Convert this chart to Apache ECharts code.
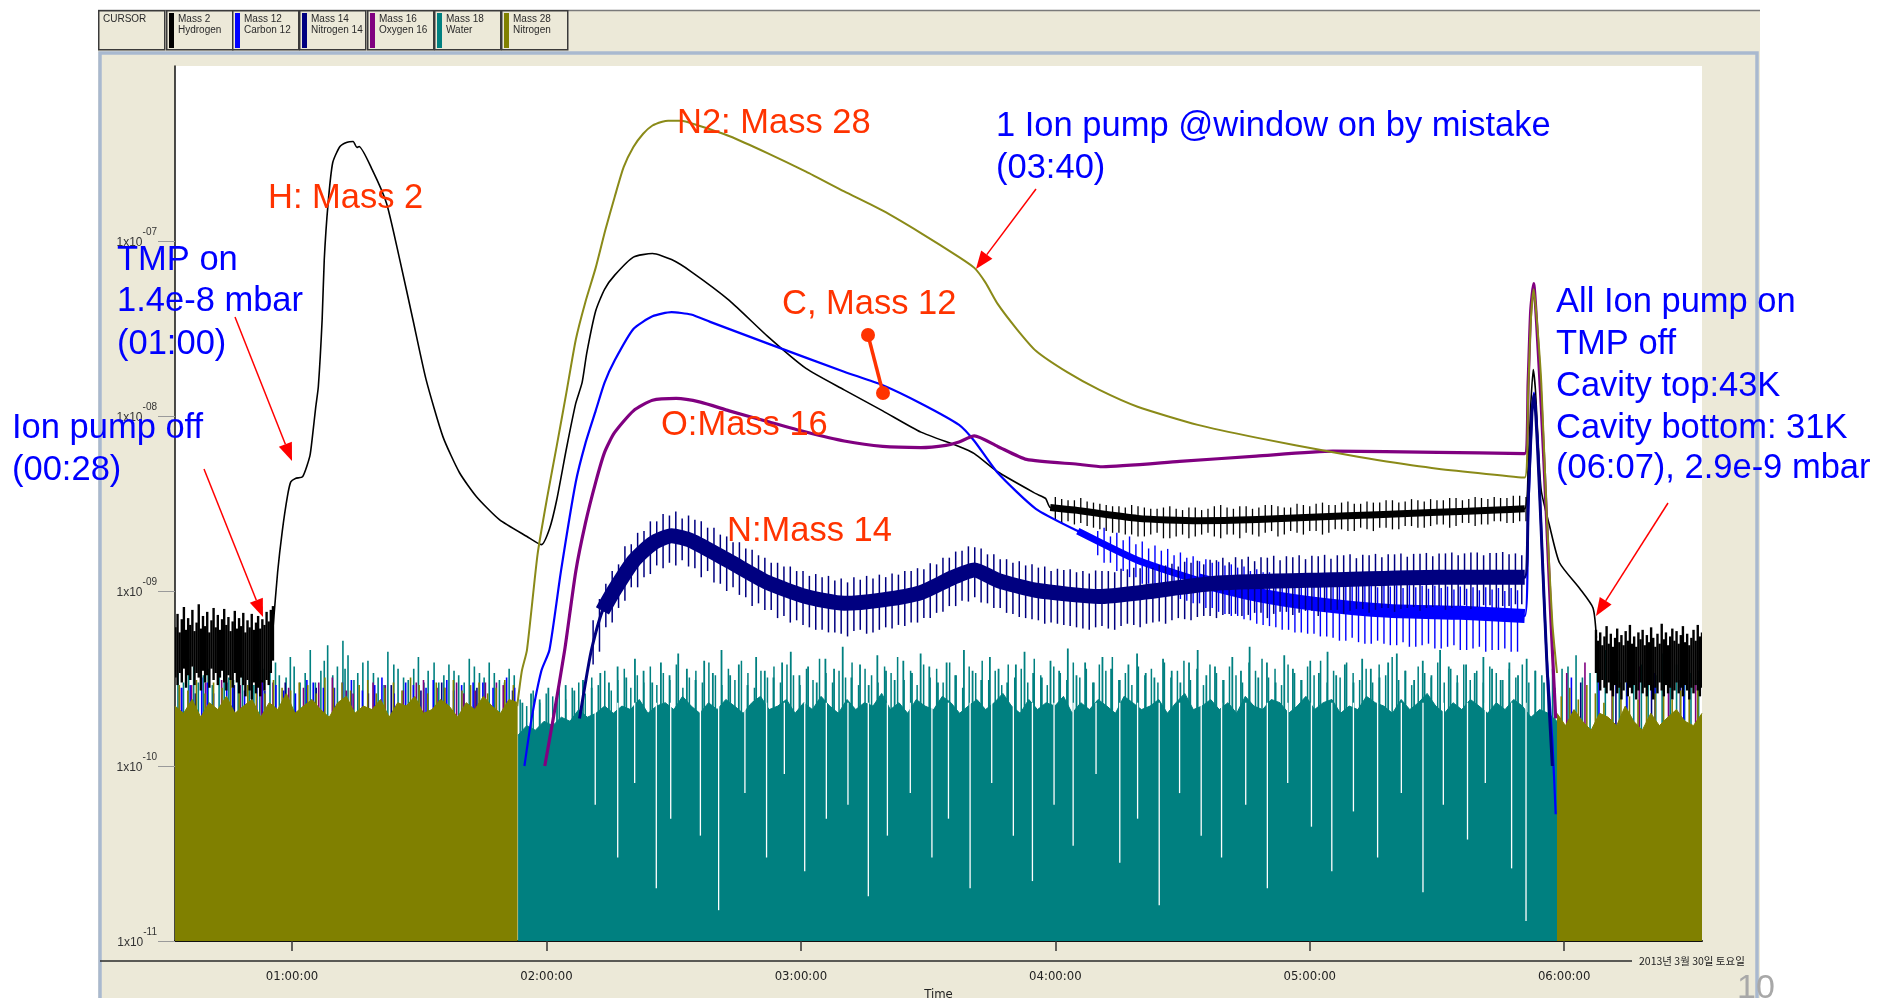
<!DOCTYPE html>
<html>
<head>
<meta charset="utf-8">
<title>RGA partial pressures</title>
<script src="https://cdn.jsdelivr.net/npm/echarts@6.0.0/dist/echarts.min.js"></script>
<style>
html, body { margin: 0; padding: 0; background: #ffffff; }
#chart { width: 1878px; height: 998px; }
</style>
</head>
<body>
<div id="chart"></div>
<script>
// ---------------- axes ----------------
const timeMin = 32.4, timeMax = 392.5;            // minutes
const pressureMin = 1e-11, pressureMax = 1e-6;    // mbar
const timeTickMinutes = [60, 120, 180, 240, 300, 360];
const timeTickLabels = ['01:00:00', '02:00:00', '03:00:00', '04:00:00', '05:00:00', '06:00:00'];
const pressureDecades = [1e-11, 1e-10, 1e-9, 1e-8, 1e-7];

// ---------------- legend ----------------
const legendLabels = ['CURSOR', 'Mass 2\nHydrogen', 'Mass 12\nCarbon 12', 'Mass 14\nNitrogen 14', 'Mass 16\nOxygen 16', 'Mass 18\nWater', 'Mass 28\nNitrogen'];
const channelColors = ['#000000', '#0000FF', '#000080', '#800080', '#008080', '#808000'];

// ---------------- main traces [minute, mbar] ----------------
const hydrogen = [
 [55.5,6.1e-10],[56.6,1.28e-9],[57.7,2.2e-9],[58.9,3.46e-9],[59.7,4.2e-9],[60.8,4.4e-9],[62.5,4.5e-9],[64.2,5.9e-9],[64.8,7.6e-9],[65.6,1.13e-8],[66.2,1.47e-8],[67.1,3.56e-8],[67.6,7.83e-8],[68.5,1.64e-7],[69.6,2.81e-7],[71.3,3.47e-7],[73.0,3.67e-7],[74.4,3.70e-7],[75.3,3.42e-7],[75.8,3.47e-7],[78.9,2.56e-7],[82.3,1.64e-7],[85.4,7.83e-8],[88.5,3.56e-8],[91.6,1.62e-8],[95.6,7.6e-9],[99.5,4.74e-9],[103.5,3.46e-9],[108.9,2.56e-9],[115.4,2.05e-9],[118.8,1.84e-9],[120.7,2.26e-9],[122.4,3.3e-9],[124.7,6.5e-9],[126.9,1.18e-8],[128.4,1.55e-8],[129.5,2.29e-8],[131.6,3.98e-8],[133.7,5.3e-8],[136.1,6.38e-8],[140.5,8.09e-8],[145.0,8.48e-8],[149.5,7.83e-8],[154.1,6.69e-8],[163.1,4.58e-8],[172.1,2.86e-8],[181.2,1.87e-8],[190.2,1.41e-8],[199.3,1.07e-8],[208.3,8.09e-9],[217.3,6.7e-9],[220.9,6.1e-9],[226.4,4.8e-9],[235.4,3.6e-9],[237.7,3.38e-9],[238.8,3.0e-9],[244.5,2.9e-9],[259.4,2.6e-9],[273.6,2.52e-9],[287.7,2.56e-9],[301.8,2.65e-9],[315.9,2.73e-9],[330.1,2.82e-9],[344.2,2.9e-9],[350.7,2.95e-9],[351.5,5.13e-9],[352.1,1.13e-8],[352.7,1.84e-8],[353.2,1.43e-8],[353.8,7.6e-9],[354.6,3.74e-9],[356.6,2.33e-9],[358.9,1.45e-9],[363.7,1.03e-9],[366.8,8.0e-10],[367.6,5.4e-10]
];
const carbon12 = [
 [114.8,1.0e-10],[116.5,1.87e-10],[118.8,3.5e-10],[120.7,4.6e-10],[123.4,1.29e-9],[126.9,4.18e-9],[129.2,7.0e-9],[131.6,1.07e-8],[133.7,1.55e-8],[136.1,2.08e-8],[140.5,3.14e-8],[145.0,3.71e-8],[149.5,3.92e-8],[154.1,3.8e-8],[158.6,3.45e-8],[172.1,2.6e-8],[190.2,1.79e-8],[199.3,1.5e-8],[208.3,1.18e-8],[217.3,8.9e-9],[220.9,7.2e-9],[226.4,4.74e-9],[235.4,2.95e-9],[245.3,2.2e-9],[259.4,1.5e-9],[273.6,1.15e-9],[287.7,9.5e-10],[301.8,8.4e-10],[318.8,7.7e-10],[335.7,7.5e-10],[350.7,7.2e-10],[351.5,2.7e-9],[352.4,1.05e-8],[352.9,1.36e-8],[353.8,6.5e-9],[354.9,1.45e-9],[355.8,4.5e-10],[357.2,1.4e-10],[358.0,5.3e-11]
];
const nitrogen14 = [
 [127.8,1.87e-10],[129.2,3.0e-10],[130.6,4.6e-10],[133.2,7.7e-10],[136.1,1.02e-9],[140.5,1.48e-9],[145.0,1.87e-9],[149.5,2.07e-9],[154.1,1.94e-9],[163.1,1.48e-9],[172.1,1.12e-9],[181.2,9.3e-10],[190.2,8.5e-10],[199.3,8.9e-10],[208.3,9.8e-10],[215.7,1.19e-9],[220.9,1.32e-9],[226.4,1.15e-9],[235.4,1.01e-9],[250.4,9.3e-10],[260.3,9.8e-10],[278.4,1.11e-9],[305.5,1.16e-9],[330.1,1.2e-9],[350.7,1.2e-9],[351.5,3.2e-9],[352.4,1.05e-8],[352.9,1.32e-8],[353.8,6.0e-9],[354.9,1.45e-9],[356.0,3.5e-10],[357.2,1.0e-10]
];
const oxygen16 = [
 [119.6,1.0e-10],[121.6,1.87e-10],[124.3,4.6e-10],[126.9,1.29e-9],[129.2,2.45e-9],[131.6,4.18e-9],[133.7,6.2e-9],[136.0,8.0e-9],[140.5,1.07e-8],[145.0,1.23e-8],[150.6,1.26e-8],[156.3,1.2e-8],[163.1,1.07e-8],[172.1,9.3e-9],[181.2,8.1e-9],[190.2,7.2e-9],[199.3,6.7e-9],[208.3,6.6e-9],[214.2,6.8e-9],[217.3,7.1e-9],[220.9,7.7e-9],[226.4,6.7e-9],[233.2,5.65e-9],[245.3,5.3e-9],[251.2,5.13e-9],[269.3,5.5e-9],[287.4,5.9e-9],[305.5,6.3e-9],[330.1,6.2e-9],[350.7,6.1e-9],[351.5,1.55e-8],[352.1,3.98e-8],[352.8,5.7e-8],[353.5,3.4e-8],[354.6,1.13e-8],[355.8,2.73e-9],[356.9,6.6e-10],[358.0,1.87e-10]
];
const nitrogen28 = [
 [113.1,2.2e-10],[114.2,3.5e-10],[115.4,4.6e-10],[117.9,1.62e-9],[120.2,3.46e-9],[122.4,6.7e-9],[124.7,1.36e-8],[126.9,2.72e-8],[129.2,4.5e-8],[131.6,7.02e-8],[133.9,1.16e-7],[136.1,1.79e-7],[138.2,2.64e-7],[140.5,3.44e-7],[142.8,4.1e-7],[145.0,4.57e-7],[147.3,4.8e-7],[148.7,4.87e-7],[151.8,4.87e-7],[154.9,4.65e-7],[163.2,3.97e-7],[172.1,3.18e-7],[181.2,2.49e-7],[190.2,1.92e-7],[199.3,1.49e-7],[208.3,1.11e-7],[217.3,8.09e-8],[220.9,7.02e-8],[223.5,5.8e-8],[226.4,4.37e-8],[230.9,3.14e-8],[235.4,2.36e-8],[242.8,1.78e-8],[250.4,1.41e-8],[259.4,1.13e-8],[273.6,8.9e-9],[287.7,7.5e-9],[305.5,6.2e-9],[315.9,5.6e-9],[330.1,5.0e-9],[350.7,4.45e-9],[351.5,1.32e-8],[352.1,3.4e-8],[352.8,5.3e-8],[353.5,3.68e-8],[354.6,1.55e-8],[355.9,2.66e-9],[357.2,6.6e-10],[358.3,3.4e-10]
];

// ---------------- noise floors (values in units of 1e-10 mbar) ----------------
const E10 = 1e-10, E9 = 1e-9;
const waterFloorStart = 113.3, waterFloorEnd = 358.3;
const waterFloor_e10 = [1.5,1.7,1.6,1.8,1.7,1.9,1.8,2.1,1.9,2.0,2.2,2.0,2.2,2.1,2.4,2.0,2.2,2.3,2.1,2.5,2.2,2.0,2.3,2.1,2.4,2.2,2.0,2.3,2.5,2.1,2.2,2.4,2.0,2.3,2.1,2.5,2.2,2.0,2.4,2.1,2.3,2.2,2.6,2.1,2.3,2.0,2.4,2.2,2.1,2.5,2.3,2.0,2.2,2.4,2.1,2.3,2.6,2.2,2.0,2.4,2.1,2.3,2.2,2.5,2.0,2.3,2.1,2.4,2.2,2.0,2.5,2.3,2.1,2.2,2.4,2.0,2.3,2.6,2.1,2.2,2.4,2.1,2.3,2.0,2.5,2.2,2.1,2.4,2.3,2.0,2.2,2.5,2.1,2.3,2.4,2.0,2.2,2.1,2.5,2.3,2.2,2.0,2.4,2.1,2.3,2.6,2.2,2.0,2.3,2.1,2.4,2.2,2.0,2.3,2.1,2.4,2.2,1.9,2.1,2.0,1.8];
const waterSpikes_e10 = [2.3,2.6,2.4,2.8,2.5,2.9,2.7,3.1,2.8,3.4,3.0,3.7,3.2,4.1,3.5,3.0,3.9,3.3,4.4,3.6,3.1,4.0,3.4,4.6,3.3,3.8,2.9,4.2,3.5,3.2,3.9,4.5,3.3,3.7,3.0,4.1,3.6,4.8,3.2,3.8,2.9,4.3,3.5,3.1,4.0,3.4,4.4,3.7,3.0,3.9,3.3,4.6,3.5,3.1,4.2,3.6,3.0,3.8,4.5,3.4,3.2,4.0,3.5,4.7,3.3,3.9,3.0,4.2,3.6,3.1,3.8,4.4,3.4,3.2,4.1,3.5,3.0,3.9,4.6,3.3,3.7,3.1,4.2,3.5,4.8,3.2,3.9,3.0,4.3,3.6,3.1,4.0,3.4,4.5,3.3,3.8,3.0,4.1,3.6,3.2,3.9,4.4,3.5,3.1,4.0,3.3,4.6,3.7,3.0,3.8,3.4,4.2,3.6,3.1,3.9,3.3,4.1,3.5,3.0,3.6];
const waterSpikes2Start = 113.8, waterSpikes2End = 357.8;
const waterSpikes2_e10 = [2.4,2.2,2.7,2.3,2.6,2.5,2.9,2.4,2.8,3.0,2.6,3.2,2.9,3.5,2.7,3.1,3.6,2.8,3.3,3.0,3.7,2.9,3.4,3.1,3.8,2.8,3.2,3.5,3.0,3.9,3.3,2.9,3.6,3.1,4.0,3.4,2.8,3.5,3.2,3.7,3.0,3.8,3.3,2.9,3.6,3.1,4.1,3.4,3.0,3.5,3.2,3.9,2.9,3.6,3.3,3.0,3.7,3.4,4.2,3.1,3.5,2.9,3.8,3.2,3.6,3.0,3.9,3.3,2.8,3.7,3.4,4.0,3.1,3.5,2.9,3.8,3.2,3.6,3.0,4.1,3.3,2.9,3.7,3.4,3.1,3.9,3.2,3.6,3.0,3.8,3.5,4.2,3.1,3.4,2.9,3.7,3.3,3.6,3.0,3.9,3.2,3.5,4.0,3.1,3.6,2.9,3.8,3.4,3.1,3.7,3.3,3.0,3.9,3.5,4.1,3.2,3.6,2.9,3.8,3.4,3.1,3.7,3.3,4.0,3.0,3.5,3.2,3.9,3.4,3.1,3.6,3.0,3.8,3.3,4.2,3.1,3.5,2.9,3.7,3.4,3.2,3.9,3.0,3.6,3.3,3.8,3.1,3.5,3.0,3.7,3.4,3.1,3.6,3.2,3.8,3.0,3.5,3.3,3.1,2.8];
// white columns inside the water floor: [minute, lowest value reached]
const waterGaps = [[131.5,6e-11],[136.8,3e-11],[140.8,8e-11],[145.9,2e-11],[149.3,5e-11],[156.3,4e-11],[160.6,1.5e-11],[166.8,7e-11],[171.9,3e-11],[176.1,9e-11],[180.9,2.5e-11],[186.0,5e-11],[191.1,6e-11],[195.9,1.8e-11],[200.4,4e-11],[205.8,7e-11],[210.9,3e-11],[214.8,5e-11],[219.9,2e-11],[225.0,8e-11],[230.1,4e-11],[234.6,2.2e-11],[239.7,6e-11],[244.2,3.5e-11],[249.6,9e-11],[255.2,2.8e-11],[259.4,5e-11],[264.5,1.6e-11],[269.3,7e-11],[274.4,4e-11],[279.2,3e-11],[284.9,6e-11],[290.0,2e-11],[294.8,8e-11],[300.4,4.5e-11],[305.2,2.5e-11],[310.3,5.5e-11],[316.0,3e-11],[321.6,7e-11],[326.7,1.9e-11],[331.5,6e-11],[337.2,3.8e-11],[341.4,8e-11],[347.6,2.6e-11],[351.0,1.3e-11]];

const n2FloorLeftStart = 32.4, n2FloorLeftEnd = 113.2;
const n2FloorLeft_e10 = [2.2,2.0,2.4,1.9,2.3,2.1,2.5,2.0,2.2,2.4,1.9,2.3,2.1,2.6,2.0,2.2,2.4,2.1,1.9,2.3,2.5,2.0,2.2,2.1,2.4,1.9,2.3,2.2,2.5,2.0,2.1,2.4,2.2,1.9,2.3,2.1,2.5,2.2,2.0,2.4,2.3];
const n2SpikesLeft_e10 = [2.9,2.7,3.1,2.6,3.0,2.8,3.2,2.7,2.9,3.0,2.6,3.1,2.8,2.7,3.0,2.9,2.6,3.2,2.8,3.0,2.7,2.9,3.1,2.6,2.8,3.0,2.7,3.2,2.9,2.6,3.0,2.8,3.1,2.7,2.9,3.0,2.6,2.8,3.1,2.9];
const n2FloorRightStart = 358.3, n2FloorRightEnd = 392.5;
const n2FloorRight_e10 = [2.0,1.7,2.1,1.8,1.6,2.0,1.9,1.7,2.2,1.8,1.6,2.0,1.7,1.9,2.1,1.8,1.7,2.0];
const n2SpikesRight_e10 = [2.5,2.8,2.4,2.9,2.6,2.3,2.7,3.0,2.5,2.4,2.8,2.6,2.9,2.4,2.7,2.5,2.8];

// spikes of the other channels rising out of the floor: [minute, value e-10]
const waterFloorSpikes_e10 = [[33.1,3.4],[34.4,3.0],[35.6,4.1],[36.8,3.7],[37.9,3.0],[39.1,3.3],[40.2,3.6],[41.2,2.9],[42.8,4.4],[44.0,3.8],[45.1,3.2],[46.2,3.1],[47.3,3.9],[48.3,3.5],[49.9,3.1],[51.0,2.9],[52.4,4.0],[53.1,3.6],[54.8,3.5],[56.1,3.9],[57.0,3.3],[58.6,3.2],[59.6,4.2],[60.5,3.7],[61.9,3.0],[63.1,3.4],[64.3,4.6],[65.5,3.0],[66.8,3.5],[67.6,4.0],[68.4,4.9],[69.6,3.3],[70.7,3.7],[72.0,5.2],[72.5,3.6],[73.2,4.3],[74.6,3.1],[75.5,3.4],[76.7,3.9],[77.9,4.0],[79.2,3.4],[80.3,3.2],[81.7,2.9],[82.6,4.5],[84.0,3.8],[85.0,3.6],[86.3,3.2],[87.4,3.1],[88.7,3.6],[89.8,4.2],[91.1,3.0],[92.1,3.5],[93.5,3.9],[94.6,3.0],[95.8,3.3],[97.0,3.8],[98.2,3.5],[99.3,3.3],[100.6,3.0],[101.8,4.1],[103.0,3.7],[104.2,3.4],[105.3,3.2],[106.5,3.9],[107.7,3.4],[108.9,3.1],[110.1,3.0],[111.2,3.6],[112.4,3.3],[359.5,3.6],[360.9,3.7],[362.8,4.3],[364.3,3.2],[366.1,3.4],[367.8,3.9],[369.7,4.6],[371.5,3.4],[373.0,3.5],[374.7,3.0],[376.4,4.1],[378.2,3.8],[379.8,3.3],[381.6,3.3],[383.1,4.4],[385.0,3.6],[386.5,3.8],[388.4,3.1],[389.9,3.4],[391.7,3.5]];
const carbonFloorSpikes_e10 = [[34.0,2.8],[36.0,2.9],[38.7,3.2],[40.0,3.0],[41.5,2.6],[44.6,3.0],[46.0,2.8],[48.8,2.7],[51.7,3.3],[53.0,3.1],[56.2,2.9],[58.0,2.7],[60.8,2.6],[63.5,3.1],[65.0,3.0],[67.4,2.8],[70.0,2.8],[71.9,3.0],[74.0,3.1],[76.6,2.7],[79.5,2.9],[81.2,3.2],[84.1,2.6],[86.8,3.0],[88.6,2.9],[91.6,2.8],[93.3,3.1],[96.5,3.1],[98.1,2.7],[100.0,2.9],[102.7,3.0],[105.0,3.0],[107.4,2.8],[110.6,3.2],[112.5,2.8],[361.7,3.2],[368.2,3.6],[374.8,3.0],[381.4,3.4],[388.2,3.1]];
const oxygenFloorSpikes_e10 = [[33.5,2.8],[36.3,2.9],[39.6,3.0],[43.4,3.1],[47.8,2.9],[50.5,2.7],[52.8,3.1],[55.5,3.0],[59.2,2.8],[62.7,2.8],[66.3,3.0],[69.5,3.2],[72.8,2.7],[74.4,2.6],[79.1,3.0],[82.0,2.9],[86.2,2.7],[89.3,3.0],[91.0,3.1],[94.2,2.8],[96.0,2.8],[98.8,3.0],[100.5,2.6],[103.2,2.7],[105.6,3.0],[108.2,3.0],[109.8,2.9],[360.6,3.4],[364.9,3.9],[371.3,3.2],[377.7,3.7],[384.6,3.5],[391.0,3.1]];
const nitrogen14FloorSpikes_e10 = [[37.2,2.6],[46.4,2.9],[53.6,2.7],[58.4,3.0],[65.7,2.8],[78.0,2.6],[83.4,2.9],[90.4,2.7],[95.3,3.0],[103.6,2.8],[112.0,2.7],[363.9,3.0],[372.2,3.3],[380.6,2.9],[387.4,3.1]];

// noisy bands: [minute, low, high]
const hydrogenBandLeft_e10 = [[32.5,3.2,6.2],[33.0,2.9,7.4],[33.5,3.4,5.8],[34.0,3.0,6.9],[34.5,3.6,8.1],[35.0,2.8,6.0],[35.5,3.3,7.0],[36.0,3.1,6.4],[36.5,3.7,7.8],[37.0,2.9,5.9],[37.5,3.4,6.6],[38.0,3.2,8.4],[38.5,2.7,6.1],[39.0,3.5,7.2],[39.5,3.0,6.3],[40.0,3.3,7.6],[40.5,2.8,5.8],[41.0,3.6,6.8],[41.5,3.1,8.0],[42.0,3.4,6.2],[42.5,2.9,7.3],[43.0,3.2,6.0],[43.5,3.5,6.9],[44.0,3.0,7.9],[44.5,2.7,6.4],[45.0,3.3,7.1],[45.5,3.1,5.9],[46.0,2.8,6.7],[46.5,3.4,7.7],[47.0,3.0,6.1],[47.5,2.6,7.0],[48.0,3.2,6.3],[48.5,2.9,7.5],[49.0,2.5,5.8],[49.5,3.1,6.8],[50.0,2.7,6.2],[50.5,2.4,7.4],[51.0,3.0,6.0],[51.5,2.6,6.6],[52.0,2.8,7.2],[52.5,2.5,6.1],[53.0,3.0,6.9],[53.5,2.7,6.4],[54.0,3.1,7.6],[54.5,2.9,6.7],[55.0,3.4,7.8],[55.5,4.0,8.2]];
const hydrogenBandRight_e10 = [[367.5,3.4,6.0],[368.0,3.0,5.2],[368.5,2.7,5.8],[369.0,3.1,4.9],[369.5,2.8,5.5],[370.0,2.6,6.3],[370.5,3.0,5.0],[371.0,2.7,5.7],[371.5,2.5,4.8],[372.0,2.9,5.4],[372.5,2.6,6.1],[373.0,2.8,5.1],[373.5,2.4,5.6],[374.0,2.7,4.9],[374.5,3.0,5.9],[375.0,2.5,5.2],[375.5,2.8,6.4],[376.0,2.6,5.0],[376.5,2.9,5.5],[377.0,2.4,4.8],[377.5,2.7,5.8],[378.0,3.0,5.3],[378.5,2.6,6.0],[379.0,2.8,4.9],[379.5,2.5,5.6],[380.0,2.9,5.1],[380.5,2.7,6.2],[381.0,2.4,5.4],[381.5,2.8,4.8],[382.0,2.6,5.7],[382.5,3.0,5.0],[383.0,2.7,6.5],[383.5,2.5,5.3],[384.0,2.9,5.8],[384.5,2.6,4.9],[385.0,2.8,5.5],[385.5,2.4,6.1],[386.0,2.7,5.2],[386.5,3.0,5.9],[387.0,2.6,5.0],[387.5,2.8,5.6],[388.0,2.5,6.3],[388.5,2.9,5.1],[389.0,2.7,5.7],[389.5,2.4,4.9],[390.0,2.8,5.4],[390.5,2.6,6.0],[391.0,2.9,5.2],[391.5,2.7,6.4],[392.0,2.5,5.5],[392.5,2.8,5.8]];
const hydrogenBandMid_e9 = [[240,2.55,3.45],[241.5,2.45,3.35],[243,2.5,3.3],[244.5,2.4,3.3],[246,2.45,3.4],[247.5,2.35,3.25],[249,2.3,3.2],[250.5,2.25,3.15],[252,2.2,3.1],[253.5,2.15,3.05],[255,2.15,3.05],[256.5,2.1,3.0],[258,2.1,3.1],[259.5,2.05,3.05],[261,2.05,3.0],[262.5,2.1,2.95],[264,2.15,2.95],[265.5,2.0,3.0],[267,2.0,3.05],[268.5,2.05,2.95],[270,2.1,2.9],[271.5,2.0,3.0],[273,2.05,3.0],[274.5,2.1,2.9],[276,2.15,2.95],[277.5,2.05,3.05],[279,2.0,3.1],[280.5,2.1,3.0],[282,2.1,2.95],[283.5,2.0,3.05],[285,2.15,3.05],[286.5,2.1,2.95],[288,2.05,3.0],[289.5,2.15,3.1],[291,2.2,3.1],[292.5,2.05,3.05],[294,2.1,3.0],[295.5,2.2,3.0],[297,2.15,3.15],[298.5,2.1,3.1],[300,2.2,3.05],[301.5,2.2,3.15],[303,2.1,3.2],[304.5,2.15,3.1],[306,2.25,3.1],[307.5,2.25,3.2],[309,2.2,3.25],[310.5,2.2,3.15],[312,2.3,3.15],[313.5,2.25,3.25],[315,2.2,3.2],[316.5,2.3,3.2],[318,2.3,3.3],[319.5,2.25,3.3],[321,2.25,3.2],[322.5,2.35,3.25],[324,2.35,3.35],[325.5,2.3,3.3],[327,2.3,3.25],[328.5,2.35,3.35],[330,2.4,3.3],[331.5,2.4,3.3],[333,2.3,3.4],[334.5,2.35,3.4],[336,2.45,3.3],[337.5,2.45,3.35],[339,2.35,3.45],[340.5,2.4,3.4],[342,2.4,3.35],[343.5,2.5,3.45],[345,2.5,3.4],[346.5,2.45,3.4],[348,2.45,3.5],[349.5,2.5,3.5],[351,2.5,3.45]];
const nitrogen14Band_e9 = [[131,0.38,0.68],[132.5,0.45,0.9],[134,0.62,1.1],[135.5,0.66,1.3],[137,0.8,1.42],[138.5,0.88,1.8],[140,1.05,1.85],[141.5,1.05,2.15],[143,1.2,2.2],[144.5,1.25,2.5],[146,1.4,2.5],[147.5,1.35,2.75],[149,1.45,2.7],[150.5,1.4,2.85],[152,1.5,2.6],[153.5,1.38,2.7],[155,1.35,2.55],[156.5,1.2,2.5],[158,1.3,2.3],[159.5,1.12,2.3],[161,1.1,2.1],[162.5,1.0,2.05],[164,1.05,1.9],[165.5,0.95,1.9],[167,0.92,1.75],[168.5,0.82,1.72],[170,0.85,1.6],[171.5,0.78,1.55],[173,0.78,1.45],[174.5,0.7,1.45],[176,0.72,1.38],[177.5,0.66,1.38],[179,0.68,1.3],[180.5,0.64,1.3],[182,0.62,1.22],[183.5,0.6,1.25],[185,0.6,1.2],[186.5,0.58,1.22],[188,0.58,1.15],[189.5,0.57,1.18],[191,0.55,1.12],[192.5,0.59,1.2],[194,0.6,1.16],[195.5,0.57,1.22],[197,0.58,1.18],[198.5,0.6,1.24],[200,0.62,1.2],[201.5,0.61,1.26],[203,0.64,1.24],[204.5,0.63,1.3],[206,0.66,1.3],[207.5,0.66,1.35],[209,0.7,1.33],[210.5,0.7,1.44],[212,0.75,1.42],[213.5,0.76,1.55],[215,0.82,1.55],[216.5,0.82,1.68],[218,0.88,1.7],[219.5,0.87,1.8],[221,0.92,1.78],[222.5,0.86,1.75],[224,0.85,1.62],[225.5,0.8,1.62],[227,0.8,1.52],[228.5,0.75,1.52],[230,0.74,1.45],[231.5,0.71,1.48],[233,0.7,1.4],[234.5,0.69,1.42],[236,0.68,1.36],[237.5,0.65,1.38],[239,0.66,1.3],[240.5,0.65,1.34],[242,0.64,1.32],[243.5,0.63,1.33],[245,0.62,1.28],[246.5,0.61,1.3],[248,0.6,1.26],[249.5,0.62,1.31],[251,0.63,1.3],[252.5,0.61,1.3],[254,0.6,1.28],[255.5,0.63,1.34],[257,0.65,1.33],[258.5,0.64,1.36],[260,0.62,1.35],[261.5,0.65,1.38],[263,0.66,1.36],[264.5,0.67,1.41],[266,0.65,1.4],[267.5,0.68,1.43],[269,0.7,1.38],[270.5,0.69,1.47],[272,0.68,1.45],[273.5,0.71,1.49],[275,0.72,1.42],[276.5,0.72,1.51],[278,0.7,1.5],[279.5,0.73,1.55],[281,0.74,1.46],[282.5,0.74,1.56],[284,0.72,1.52],[285.5,0.73,1.57],[287,0.75,1.48],[288.5,0.75,1.56],[290,0.7,1.55],[291.5,0.74,1.59],[293,0.76,1.5],[294.5,0.76,1.58],[296,0.73,1.56],[297.5,0.75,1.6],[299,0.77,1.52],[300.5,0.77,1.59],[302,0.72,1.58],[303.5,0.76,1.61],[305,0.78,1.53],[306.5,0.78,1.6],[308,0.74,1.6],[309.5,0.77,1.62],[311,0.79,1.54],[312.5,0.79,1.61],[314,0.75,1.6],[315.5,0.78,1.63],[317,0.8,1.56],[318.5,0.8,1.62],[320,0.76,1.62],[321.5,0.79,1.64],[323,0.8,1.57],[324.5,0.81,1.63],[326,0.77,1.63],[327.5,0.8,1.65],[329,0.81,1.58],[330.5,0.82,1.64],[332,0.78,1.64],[333.5,0.8,1.66],[335,0.82,1.6],[336.5,0.83,1.64],[338,0.79,1.66],[339.5,0.81,1.66],[341,0.83,1.6],[342.5,0.83,1.65],[344,0.8,1.65],[345.5,0.82,1.67],[347,0.82,1.62],[348.5,0.84,1.64],[350,0.84,1.6]];
const carbon12Band_e9 = [[250,1.6,2.2],[251.5,1.45,2.3],[253,1.45,2.05],[254.5,1.3,2.15],[256,1.3,1.95],[257.5,1.2,2.05],[259,1.2,1.85],[260.5,1.1,1.92],[262,1.1,1.75],[263.5,1.02,1.82],[265,1.02,1.7],[266.5,0.96,1.74],[268,0.95,1.6],[269.5,0.9,1.66],[271,0.88,1.55],[272.5,0.85,1.58],[274,0.85,1.48],[275.5,0.8,1.52],[277,0.8,1.45],[278.5,0.76,1.47],[280,0.74,1.4],[281.5,0.72,1.42],[283,0.72,1.36],[284.5,0.69,1.38],[286,0.68,1.3],[287.5,0.65,1.33],[289,0.64,1.28],[290.5,0.63,1.28],[292,0.62,1.22],[293.5,0.6,1.25],[295,0.6,1.2],[296.5,0.58,1.22],[298,0.58,1.18],[299.5,0.57,1.2],[301,0.57,1.15],[302.5,0.55,1.17],[304,0.55,1.12],[305.5,0.54,1.15],[307,0.52,1.1],[308.5,0.52,1.12],[310,0.54,1.08],[311.5,0.51,1.11],[313,0.5,1.07],[314.5,0.5,1.1],[316,0.52,1.05],[317.5,0.5,1.09],[319,0.49,1.06],[320.5,0.49,1.08],[322,0.51,1.04],[323.5,0.48,1.08],[325,0.48,1.05],[326.5,0.49,1.07],[328,0.5,1.03],[329.5,0.47,1.07],[331,0.47,1.04],[332.5,0.48,1.06],[334,0.49,1.02],[335.5,0.46,1.06],[337,0.46,1.03],[338.5,0.47,1.05],[340,0.48,1.01],[341.5,0.45,1.05],[343,0.46,1.02],[344.5,0.46,1.04],[346,0.47,1.0],[347.5,0.45,1.04],[349,0.45,1.01]];

// ---------------- helpers ----------------
function sampled(start, end, vals, unit) {
  const step = (end - start) / (vals.length - 1);
  return vals.map((v, i) => [start + i * step, v * unit]);
}
function midSampled(start, end, vals, unit) {
  const step = (end - start) / vals.length;
  return vals.map((v, i) => [start + (i + 0.5) * step, v * unit]);
}
const fromFloor = pts => pts.map(p => [p[0], pressureMin, p[1]]);
function stems(pairs, unit) { return pairs.map(p => [p[0], pressureMin, p[1] * unit]); }
function bands(rows, unit) { return rows.map(r => [r[0], r[1] * unit, r[2] * unit]); }
function segSeries(name, data, color, width, z) {
  return {
    type: 'custom', name, data, z, silent: true, clip: true, animation: false,
    encode: { x: 0, y: [1, 2] },
    renderItem: (params, api) => {
      const a = api.coord([api.value(0), api.value(1)]);
      const b = api.coord([api.value(0), api.value(2)]);
      return { type: 'line', shape: { x1: a[0], y1: a[1], x2: b[0], y2: b[1] }, style: { stroke: color, lineWidth: width } };
    }
  };
}
function lineSeries(name, data, color, width, z, smooth) {
  return { type: 'line', name, data, z, symbol: 'none', silent: true, clip: true, animation: false,
    smooth: smooth || 0, lineStyle: { color, width, join: 'round', cap: 'butt' } };
}
function areaSeries(name, data, color, z) {
  return { type: 'line', name, data, z, symbol: 'none', silent: true, clip: true, animation: false,
    lineStyle: { color, width: 1 }, areaStyle: { color, opacity: 1, origin: pressureMin } };
}
const inRange = (arr, a, b) => arr.filter(p => p[0] >= a && p[0] <= b);

const [cH, cC, cN, cO, cW, cN2] = channelColors;
const FONT = "'Liberation Sans', Arial, sans-serif";
const NARROW = "'Liberation Sans Narrow', 'DejaVu Sans Condensed', 'Liberation Sans', sans-serif";

const series = [
  // floor spikes behind the fills
  segSeries('Mass 18 Water', stems(waterFloorSpikes_e10, E10), cW, 1.6, 1),
  segSeries('Mass 12 Carbon 12', stems(carbonFloorSpikes_e10, E10), cC, 1.6, 1),
  segSeries('Mass 16 Oxygen 16', stems(oxygenFloorSpikes_e10, E10), cO, 1.6, 1),
  segSeries('Mass 14 Nitrogen 14', stems(nitrogen14FloorSpikes_e10, E10), cN, 1.6, 1),
  segSeries('Mass 28 Nitrogen', fromFloor(midSampled(n2FloorLeftStart, n2FloorLeftEnd, n2SpikesLeft_e10, E10)), cN2, 1.6, 1),
  segSeries('Mass 28 Nitrogen', fromFloor(midSampled(n2FloorRightStart, n2FloorRightEnd, n2SpikesRight_e10, E10)), cN2, 1.6, 1),
  segSeries('Mass 18 Water', fromFloor(midSampled(waterFloorStart, waterFloorEnd, waterSpikes_e10, E10)), cW, 1.8, 1),
  segSeries('Mass 18 Water', fromFloor(sampled(waterSpikes2Start, waterSpikes2End, waterSpikes2_e10, E10)), cW, 1.5, 1),
  // fills
  areaSeries('Mass 28 Nitrogen', sampled(n2FloorLeftStart, n2FloorLeftEnd, n2FloorLeft_e10, E10), cN2, 2),
  areaSeries('Mass 18 Water', sampled(waterFloorStart, waterFloorEnd, waterFloor_e10, E10), cW, 2),
  areaSeries('Mass 28 Nitrogen', sampled(n2FloorRightStart, n2FloorRightEnd, n2FloorRight_e10, E10), cN2, 2),
  segSeries('Mass 18 Water', waterGaps.map(g => [g[0], g[1], 2.3e-10]), '#ffffff', 1.3, 3),
  // hydrogen
  segSeries('Mass 2 Hydrogen', bands(hydrogenBandLeft_e10, E10), cH, 2.4, 4),
  segSeries('Mass 2 Hydrogen', bands(hydrogenBandRight_e10, E10), cH, 2.4, 4),
  lineSeries('Mass 2 Hydrogen', hydrogen, cH, 1.6, 4, 0.2),
  lineSeries('Mass 2 Hydrogen', inRange(hydrogen, 238.8, 350.7), cH, 7, 4, 0.2),
  segSeries('Mass 2 Hydrogen', bands(hydrogenBandMid_e9, E9), cH, 1.3, 4),
  // carbon
  lineSeries('Mass 12 Carbon 12', carbon12, cC, 2.2, 5, 0.2),
  lineSeries('Mass 12 Carbon 12', inRange(carbon12, 245.3, 273.6), cC, 7, 5, 0.2),
  lineSeries('Mass 12 Carbon 12', inRange(carbon12, 273.6, 350.7), cC, 14, 5, 0.2),
  segSeries('Mass 12 Carbon 12', bands(carbon12Band_e9, E9), cC, 1.4, 5),
  // nitrogen 14
  lineSeries('Mass 14 Nitrogen 14', inRange(nitrogen14, 133.2, 350.7), cN, 15, 6, 0.2),
  lineSeries('Mass 14 Nitrogen 14', nitrogen14, cN, 3, 6, 0.2),
  segSeries('Mass 14 Nitrogen 14', bands(nitrogen14Band_e9, E9), cN, 1.5, 6),
  // oxygen 16
  lineSeries('Mass 16 Oxygen 16', oxygen16, cO, 3.2, 7, 0.2),
  // nitrogen 28
  lineSeries('Mass 28 Nitrogen', nitrogen28, '#8A8A18', 2, 8, 0.2)
];

// ---------------- window chrome, legend, annotations ----------------
const graphics = [];
graphics.push({ type: 'rect', z: -100, shape: { x: 98, y: 10, width: 1662, height: 988 }, style: { fill: '#ECE9D8' } });
graphics.push({ type: 'line', z: -99, shape: { x1: 98, y1: 10.5, x2: 1760, y2: 10.5 }, style: { stroke: '#7a7a7a', lineWidth: 1.5 } });
graphics.push({ type: 'rect', z: -99, shape: { x: 100, y: 53, width: 1657, height: 960 }, style: { fill: null, stroke: '#A9B9CF', lineWidth: 3.5 } });
const legendX = [98, 166, 232, 299, 367, 434, 501];
legendLabels.forEach((lab, i) => {
  const x = legendX[i];
  graphics.push({ type: 'rect', z: -98, shape: { x: x + 0.75, y: 10.75, width: 66, height: 39 }, style: { fill: '#ECE9D8', stroke: '#3a3a3a', lineWidth: 1.5 } });
  if (i > 0) {
    graphics.push({ type: 'rect', z: -97, shape: { x: x + 3, y: 13, width: 5, height: 35 }, style: { fill: channelColors[i - 1] } });
  }
  graphics.push({ type: 'text', z: -97, x: x + (i > 0 ? 12 : 5), y: 14,
    style: { text: lab, fill: '#2a2a2a', font: '10px ' + FONT, lineHeight: 11, verticalAlign: 'top' } });
});
graphics.push({ type: 'line', z: -95, shape: { x1: 100, y1: 961, x2: 1632, y2: 961 }, style: { stroke: '#2a2a2a', lineWidth: 1.5 } });
graphics.push({ type: 'text', z: -95, x: 1639, y: 961, style: { text: '2013년 3월 30일 토요일', fill: '#222', font: "10.5px 'Noto Sans CJK KR', sans-serif", verticalAlign: 'middle' } });
graphics.push({ type: 'text', z: 100, x: 1756, y: 972, style: { text: '10', fill: '#A8A8A8', font: '34px ' + FONT, align: 'center', verticalAlign: 'top' } });

const RED = '#FF3300', BLUE = '#0000FF';
const notes = [
  ['H: Mass 2', 268, 198, RED], ['N2: Mass 28', 677, 123, RED], ['C, Mass 12', 782, 304, RED],
  ['O:Mass 16', 661, 425, RED], ['N:Mass 14', 727, 531, RED],
  ['Ion pump off', 12, 428, BLUE], ['(00:28)', 12, 470, BLUE],
  ['TMP on', 117, 260, BLUE], ['1.4e-8 mbar', 117, 301, BLUE], ['(01:00)', 117, 344, BLUE],
  ['1 Ion pump @window on by mistake', 996, 126, BLUE], ['(03:40)', 996, 168, BLUE],
  ['All Ion pump on', 1556, 302, BLUE], ['TMP off', 1556, 344, BLUE], ['Cavity top:43K', 1556, 386, BLUE],
  ['Cavity bottom: 31K', 1556, 428, BLUE], ['(06:07), 2.9e-9 mbar', 1556, 468, BLUE]
];
notes.forEach(n => graphics.push({ type: 'text', z: 100, x: n[1], y: n[2],
  style: { text: n[0], fill: n[3], font: '34.5px ' + FONT, align: 'left', verticalAlign: 'middle' } }));

function arrow(x1, y1, x2, y2) {
  const ang = Math.atan2(y2 - y1, x2 - x1), L = 18, W = 7;
  const bx = x2 - L * Math.cos(ang), by = y2 - L * Math.sin(ang);
  const nx = -Math.sin(ang) * W, ny = Math.cos(ang) * W;
  graphics.push({ type: 'line', z: 100, shape: { x1, y1, x2: bx, y2: by }, style: { stroke: '#FF0000', lineWidth: 1.5 } });
  graphics.push({ type: 'polygon', z: 100, shape: { points: [[x2, y2], [bx + nx, by + ny], [bx - nx, by - ny]] }, style: { fill: '#FF0000' } });
}
arrow(204, 469, 263, 617);
arrow(235, 317, 292, 461);
arrow(1036, 189, 976, 269);
arrow(1668, 503, 1596, 616);
graphics.push({ type: 'line', z: 100, shape: { x1: 868, y1: 335, x2: 883, y2: 393 }, style: { stroke: RED, lineWidth: 3.5 } });
graphics.push({ type: 'circle', z: 100, shape: { cx: 868, cy: 335, r: 7 }, style: { fill: RED } });
graphics.push({ type: 'circle', z: 100, shape: { cx: 883, cy: 393, r: 7 }, style: { fill: RED } });

// ---------------- chart ----------------
const chart = echarts.init(document.getElementById('chart'), null, { renderer: 'canvas', width: 1878, height: 998 });
chart.setOption({
  backgroundColor: '#ffffff',
  animation: false,
  textStyle: { fontFamily: FONT },
  grid: { left: 175, right: 176, top: 66, bottom: 57, show: true, backgroundColor: '#ffffff', borderWidth: 0, containLabel: false, outerBoundsMode: 'none' },
  xAxis: {
    type: 'value', min: timeMin, max: timeMax,
    name: 'Time', nameLocation: 'middle', nameGap: 44,
    nameTextStyle: { fontFamily: NARROW, fontSize: 13, color: '#222' },
    axisLine: { show: true, onZero: false, lineStyle: { color: '#111', width: 2 } },
    axisTick: { show: true, customValues: timeTickMinutes, length: 10, lineStyle: { color: '#333', width: 1.5 } },
    axisLabel: { customValues: timeTickMinutes, margin: 29, fontFamily: NARROW, fontSize: 13, color: '#222',
      formatter: v => timeTickLabels[timeTickMinutes.indexOf(Math.round(v))] || '' },
    splitLine: { show: false }
  },
  yAxis: {
    type: 'log', logBase: 10, min: pressureMin, max: pressureMax,
    axisLine: { show: true, onZero: false, lineStyle: { color: '#111', width: 1.5 } },
    axisTick: { show: true, customValues: pressureDecades, length: 17, lineStyle: { color: '#9a9a9a', width: 1 } },
    axisLabel: {
      customValues: pressureDecades, margin: 18, padding: [0, 0, 6, 0],
      formatter: v => {
        const e = Math.round(Math.log10(v));
        if (e > -7) return '';
        return '{b|1x10}{e|' + (e < 0 ? '-' : '') + String(Math.abs(e)).padStart(2, '0') + '}';
      },
      rich: {
        b: { fontSize: 12, fontFamily: FONT, color: '#333', verticalAlign: 'bottom', lineHeight: 22 },
        e: { fontSize: 10, fontFamily: FONT, color: '#333', verticalAlign: 'top', lineHeight: 22 }
      }
    },
    splitLine: { show: false }
  },
  graphic: { elements: graphics },
  series
});
</script>
</body>
</html>
